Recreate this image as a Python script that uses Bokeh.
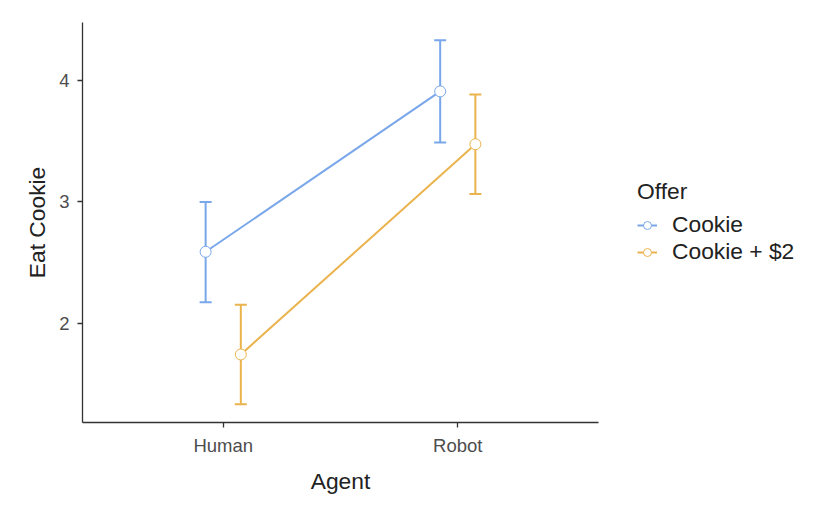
from bokeh.plotting import figure
from bokeh.models import (Range1d, FixedTicker, Whisker, TeeHead, ColumnDataSource,
                          Legend, LegendItem)
from bokeh.embed import file_html
from bokeh.resources import INLINE

agents = ["Human", "Robot"]
agent_pos = [1, 2]
offers = ["Cookie", "Cookie + $2"]
cookie_mean = [2.59, 3.91]
cookie_lower = [2.175, 3.49]
cookie_upper = [3.0, 4.33]
money_mean = [1.745, 3.475]
money_lower = [1.335, 3.065]
money_upper = [2.155, 3.885]
colors = ["#79A7EA", "#EAB34D"]
dodge = 0.075

FONT = "Liberation Sans"
BIG = "22.8px"

p = figure(frame_width=516, frame_height=400, output_backend="svg", toolbar_location=None,
           x_range=Range1d(0.4, 2.6), y_range=Range1d(1.185, 4.477),
           min_border_left=82, min_border_right=0, min_border_top=22, min_border_bottom=82)
p.outline_line_color = None
p.xgrid.visible = False
p.ygrid.visible = False

series = [(cookie_mean, cookie_lower, cookie_upper, -dodge, colors[0]),
          (money_mean, money_lower, money_upper, dodge, colors[1])]
legend_items = []
for (mean, lo, hi, off, col), name in zip(series, offers):
    xs = [a + off for a in agent_pos]
    src = ColumnDataSource(dict(x=xs, y=mean, lo=lo, hi=hi))
    ln = p.line("x", "y", source=src, line_color=col, line_width=2)
    w = Whisker(base="x", lower="lo", upper="hi", source=src, dimension="height",
                line_color=col, line_width=2,
                upper_head=TeeHead(size=12, line_color=col, line_width=2),
                lower_head=TeeHead(size=12, line_color=col, line_width=2))
    p.add_layout(w)
    sc = p.scatter("x", "y", source=src, size=11, marker="circle",
                   fill_color="white", line_color=col, line_width=1)
    legend_items.append(LegendItem(label=name, renderers=[ln, sc]))

p.xaxis.ticker = FixedTicker(ticks=agent_pos)
p.xaxis.major_label_overrides = {pos: lab for pos, lab in zip(agent_pos, agents)}
p.yaxis.ticker = FixedTicker(ticks=[2, 3, 4])
for ax in (p.xaxis, p.yaxis):
    ax.axis_line_color = "#333333"
    ax.axis_line_width = 1.3
    ax.major_tick_line_color = "#333333"
    ax.major_tick_line_width = 1.3
    ax.major_tick_out = 5
    ax.major_tick_in = 0
    ax.minor_tick_line_color = None
    ax.major_label_text_font = FONT
    ax.major_label_text_font_size = "18.5px"
    ax.major_label_text_color = "#4D4D4D"
    ax.axis_label_text_font = FONT
    ax.axis_label_text_font_size = BIG
    ax.axis_label_text_font_style = "normal"
    ax.axis_label_text_color = "#222222"
p.xaxis.axis_label = "Agent"
p.yaxis.axis_label = "Eat Cookie"
p.xaxis.major_label_standoff = 7
p.xaxis.axis_label_standoff = 9
p.yaxis.major_label_standoff = 8
p.yaxis.axis_label_standoff = 6

legend = Legend(items=legend_items, location=(39, 157), padding=0, margin=0,
                border_line_alpha=0, background_fill_alpha=0,
                title="Offer", title_text_font=FONT, title_text_font_size=BIG,
                title_text_color="#222222", title_text_font_style="normal", title_standoff=6,
                label_text_font=FONT, label_text_font_size=BIG, label_text_color="#222222",
                glyph_width=20, glyph_height=20, spacing=-2, label_standoff=15)
p.add_layout(legend, "right")

open("out.html", "w").write(file_html(p, INLINE))
